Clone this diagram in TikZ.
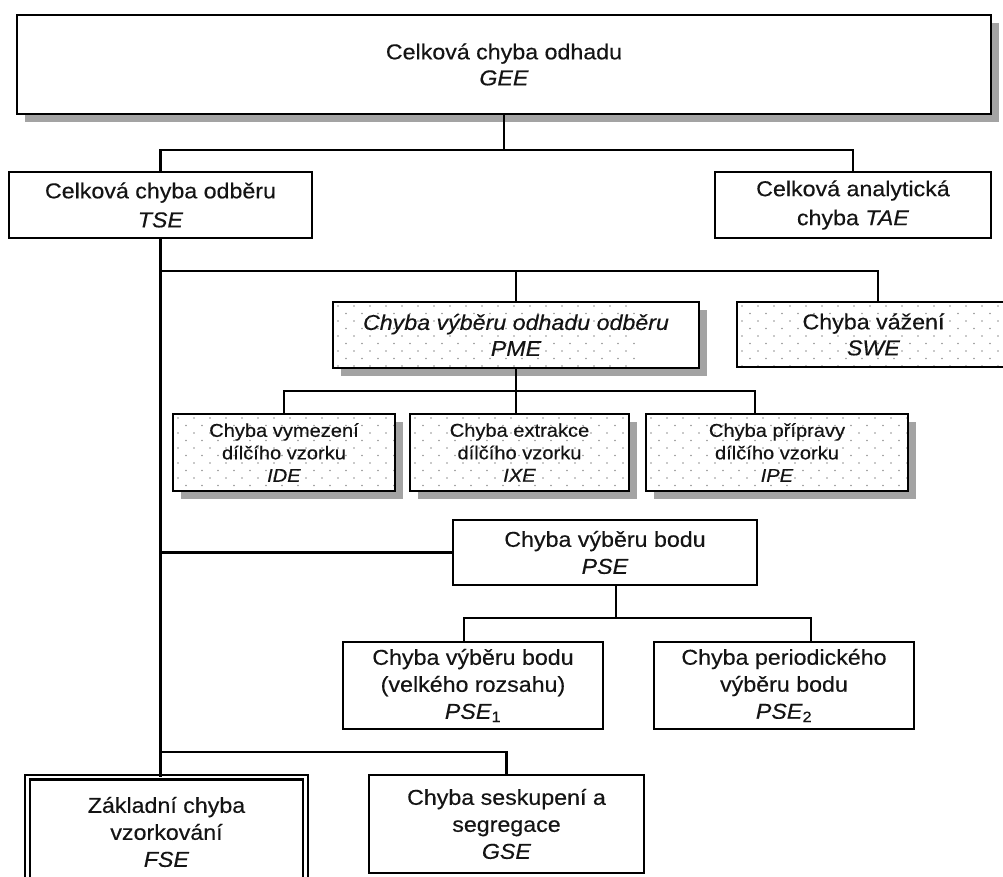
\documentclass[tikz,border=0pt]{standalone}
\usepackage{fontspec}
\setmainfont{Liberation Sans}[FakeStretch=1.08, FakeBold=0.35]
\usetikzlibrary{calc,shadows}

\newcommand{\bigtxt}[1]{\fontsize{21.5pt}{#1}\selectfont}
\newcommand{\smalltxt}{\fontsize{18.6pt}{22.5pt}\selectfont}

\tikzset{
  box/.style={draw, line width=2.8pt, fill=white, inner sep=0pt, align=center, text=black!92},
  shadowbox/.style={box, drop shadow={shadow xshift=8pt, shadow yshift=-8pt, fill=black!36, opacity=1}},
  dotbg/.style={path picture={
      \foreach \i in {0,...,18}
        \foreach \j in {0,...,11}
          {\pgfmathsetmacro{\off}{mod(\j,2)*8}
           \fill[black!42] ($(path picture bounding box.north west)+(\i*16+\off+5,\j*7.5+4)$) circle (0.9pt);}
  }},
  conn/.style={line width=2.4pt, line cap=rect},
}

\begin{document}
\begin{tikzpicture}[x=1pt,y=-1pt]
\useasboundingbox (0,0) rectangle (1003,877);
\fill[white] (0,0) rectangle (1003,877);

% top level
\node[shadowbox, minimum width=974pt, minimum height=99pt, font=\bigtxt{26pt}] (gee) at (504,64.5)
  {Celková chyba odhadu\\\textit{GEE}};

% second level
\node[box, minimum width=303pt, minimum height=66pt, font=\bigtxt{29pt}] (tse) at (160.5,205)
  {Celková chyba odběru\\\textit{TSE}};
\node[box, minimum width=276pt, minimum height=66pt, font=\bigtxt{29pt}] (tae) at (853,205)
  {Celková analytická\\chyba \textit{TAE}};

% sampling branch, dotted boxes
\node[shadowbox, dotbg, minimum width=366pt, minimum height=66pt, font=\bigtxt{26pt}\itshape] (pme) at (516,335)
  {Chyba výběru odhadu odběru\\PME};
\node[box, dotbg, minimum width=273pt, minimum height=65pt, font=\bigtxt{26pt}] (swe) at (873.5,334.5)
  {Chyba vážení\\\textit{SWE}};

\node[shadowbox, dotbg, minimum width=222pt, minimum height=77pt, font=\smalltxt] (ide) at (284,452.5)
  {Chyba vymezení\\dílčího vzorku\\\textit{IDE}};
\node[shadowbox, dotbg, minimum width=219pt, minimum height=77pt, font=\smalltxt] (ixe) at (519.5,452.5)
  {Chyba extrakce\\dílčího vzorku\\\textit{IXE}};
\node[shadowbox, dotbg, minimum width=262pt, minimum height=77pt, font=\smalltxt] (ipe) at (777,452.5)
  {Chyba přípravy\\dílčího vzorku\\\textit{IPE}};

% point selection
\node[box, minimum width=304pt, minimum height=65pt, font=\bigtxt{27pt}] (pse) at (605,552.5)
  {Chyba výběru bodu\\\textit{PSE}};
\node[box, minimum width=260pt, minimum height=87pt, font=\bigtxt{27pt}] (pseA) at (473,685.5)
  {Chyba výběru bodu\\(velkého rozsahu)\\\textit{PSE}\textsubscript{1}};
\node[box, minimum width=260pt, minimum height=87pt, font=\bigtxt{27pt}] (pseB) at (784,685.5)
  {Chyba periodického\\výběru bodu\\\textit{PSE}\textsubscript{2}};

% bottom row: the double-framed box runs past the lower edge
\node[box, double, double distance=2.6pt, line width=2.2pt, minimum width=277.6pt, minimum height=110pt, font=\bigtxt{27pt}] (fse) at (166.5,832)
  {Základní chyba\\vzorkování\\\textit{FSE}};
\node[box, minimum width=275pt, minimum height=98pt, font=\bigtxt{27pt}] (gse) at (506.5,824)
  {Chyba seskupení a\\segregace\\\textit{GSE}};

% connectors
\coordinate (j0) at (504,150);
\draw[conn] (gee.south) -- (j0);
\draw[conn] (tse.north) |- (j0) -| (tae.north);

\draw[conn] (tse.south) -- (tse.south |- fse.north);

\coordinate (j1) at (160,271);
\coordinate (sweTop) at ([xshift=4.5pt]swe.north);
\draw[conn] (j1) -| (sweTop);
\draw[conn] (pme.north) -- (pme.north |- j1);

\coordinate (j2) at (516,391);
\coordinate (ipeTop) at ([xshift=-22pt]ipe.north);
\draw[conn] (pme.south) -- (pme.south |- ixe.north);
\draw[conn] (ide.north) |- (j2) -| (ipeTop);

\draw[conn] (tse.south |- pse.west) -- (pse.west);

\coordinate (pseDrop) at ([xshift=11pt]pse.south);
\coordinate (j3) at (616,618);
\coordinate (aTop) at ([xshift=-9pt]pseA.north);
\coordinate (bTop) at ([xshift=27pt]pseB.north);
\draw[conn] (pseDrop) -- (j3);
\draw[conn] (aTop) |- (j3) -| (bTop);

\coordinate (j4) at (160,752);
\draw[conn] (j4) -| (gse.north);
\end{tikzpicture}
\end{document}
